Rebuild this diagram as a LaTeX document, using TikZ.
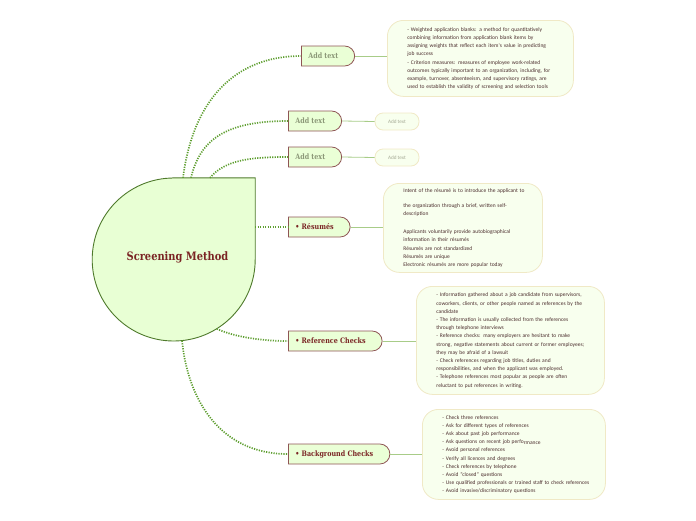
\documentclass[tikz,border=0pt]{standalone}
\usepackage{fontspec}
\usetikzlibrary{shapes.misc}
\newfontfamily\callfont{Carlito}
\newfontfamily\topfont{DejaVu Serif}[FakeStretch=0.85]
\definecolor{cfill}{HTML}{E8FFD4}
\definecolor{cborder}{HTML}{4F7A2C}
\definecolor{tfill}{HTML}{EAFFD6}
\definecolor{tborder}{HTML}{8E5454}
\definecolor{ttext}{HTML}{7A2424}
\definecolor{tgrey}{HTML}{8C9878}
\definecolor{dotgreen}{HTML}{5E9E30}
\definecolor{thin}{HTML}{A8CC88}
\definecolor{kfill}{HTML}{F8FFEE}
\definecolor{kborder}{HTML}{F0E9C6}
\definecolor{ktext}{HTML}{4A2C2C}
\definecolor{kgrey}{HTML}{A6AB96}
\tikzset{
  topic/.style={rounded rectangle, rounded rectangle left arc=none, draw=tborder, fill=tfill,
    line width=0.8pt, minimum height=20, inner xsep=7, inner ysep=0,
    font=\topfont\bfseries\fontsize{7.5}{9}\selectfont, text=ttext, anchor=west,
    execute at end node={\hspace*{9pt}}},
  greytopic/.style={topic, text=tgrey},
  callout/.style={rectangle, rounded corners=16, draw=kborder, fill=kfill, line width=0.8pt,
    inner xsep=20, inner ysep=0, align=left, anchor=north west,
    font=\callfont\fontsize{5.5}{8.2}\selectfont, text=ktext},
  tiny/.style={rectangle, rounded corners=8, draw=kborder, fill=kfill, line width=0.8pt,
    minimum width=44, minimum height=17, inner sep=0,
    font=\callfont\fontsize{5.2}{6}\selectfont, text=kgrey},
  dotlink/.style={draw=dotgreen, line width=1.7pt, dash pattern=on 1.2pt off 1.3pt},
  thinlink/.style={draw=thin, line width=0.8pt},
  centershape/.style={draw=cborder, fill=cfill, line width=0.9pt}
}
\begin{document}
\begin{tikzpicture}[x=1pt,y=-1pt]
\useasboundingbox (0,0) rectangle (696,520);

% central node
\node[circle, minimum size=163, inner sep=0] (c) at (173.5,259.5) {};
\draw[centershape] (c.north) -- (c.north -| c.east) -- (c.east) arc[start angle=0, end angle=-270, radius=81.5pt] -- cycle;
\node[font=\topfont\bfseries\fontsize{11.6}{13}\selectfont, text=ttext] (cm) at (177.5,257) {Screening Method};

% topics
\node[greytopic] (t1) at (301,56) {Add text};
\node[greytopic] (t2) at (288,121) {Add text};
\node[greytopic] (t3) at (288,157) {Add text};
\node[topic] (t4) at (288,227) {• Résumés};
\node[topic] (t5) at (288,341) {• Reference Checks};
\node[topic] (t6) at (288,454) {• Background Checks};

% dotted connectors
\coordinate (s1) at ([xshift=9.5]c.north);
\coordinate (s2) at ([xshift=17.5]c.north);
\coordinate (s3) at ([xshift=36.5]c.north);
\draw[dotlink] (s1) .. controls (193,100) and (235,56) .. (t1.west);
\draw[dotlink] (s2) .. controls (200,140) and (225,121) .. (t2.west);
\draw[dotlink] (s3) .. controls (225,160) and (250,157) .. (t3.west);
\draw[dotlink] (c.east |- t4.west) -- (t4.west);
\draw[dotlink] (c.-58) .. controls (230,335) and (255,341) .. (t5.west);
\draw[dotlink] (c.-84) .. controls (188,400) and (220,454) .. (t6.west);

% callouts
\node[callout, text width=146, minimum height=76] (n1) at (387,20) {\begin{tabular}{@{}l@{}}
- Weighted application blanks: a method for quantitatively\\
combining information from application blank items by\\
assigning weights that reflect each item's value in predicting\\
job success\\
- Criterion measures: measures of employee work-related\\
outcomes typically important to an organization, including, for\\
example, turnover, absenteeism, and supervisory ratings, are\\
used to establish the validity of screening and selection tools
\end{tabular}};
\node[tiny] (n2) at (397,121.5) {Add text};
\node[tiny] (n3) at (397,157.5) {Add text};
\node[callout, text width=119, minimum height=89] (n4) at (383,183) {\begin{tabular}{@{}l@{}}
Intent of the résumé is to introduce the applicant to\\[6.8pt]
the organization through a brief, written self-\\
description\\[9.8pt]
Applicants voluntarily provide autobiographical\\
information in their résumés\\
Résumés are not standardized\\
Résumés are unique\\
Electronic résumés are more popular today
\end{tabular}};
\node[callout, text width=148, minimum height=108] (n5) at (416,286) {\begin{tabular}{@{}l@{}}
- Information gathered about a job candidate from supervisors,\\
coworkers, clients, or other people named as references by the\\
candidate\\
- The information is usually collected from the references\\
through telephone interviews\\
- Reference checks: many employers are hesitant to make\\
strong, negative statements about current or former employees;\\
they may be afraid of a lawsuit\\
- Check references regarding job titles, duties and\\
responsibilities, and when the applicant was employed.\\
- Telephone references most popular as people are often\\
reluctant to put references in writing.
\end{tabular}};
\node[callout, text width=143, minimum height=90] (n6) at (422,409) {\begin{tabular}{@{}l@{}}
- Check three references\\
- Ask for different types of references\\
- Ask about past job performance\\
- Ask questions on recent job perfo\raisebox{-1.2pt}{rmance}\\
- Avoid personal references\\
- Verify all licences and degrees\\
- Check references by telephone\\
- Avoid “closed” questions\\
- Use qualified professionals or trained staff to check references\\
- Avoid invasive/discriminatory questions
\end{tabular}};

% thin links
\draw[thinlink] (t1.east) -- (t1.east -| n1.west);
\draw[thinlink] (t2.east) -- (n2.west);
\draw[thinlink] (t3.east) -- (n3.west);
\draw[thinlink] (t4.east) -- (t4.east -| n4.west);
\draw[thinlink] (t5.east) -- (t5.east -| n5.west);
\draw[thinlink] (t6.east) -- (t6.east -| n6.west);
\end{tikzpicture}
\end{document}
